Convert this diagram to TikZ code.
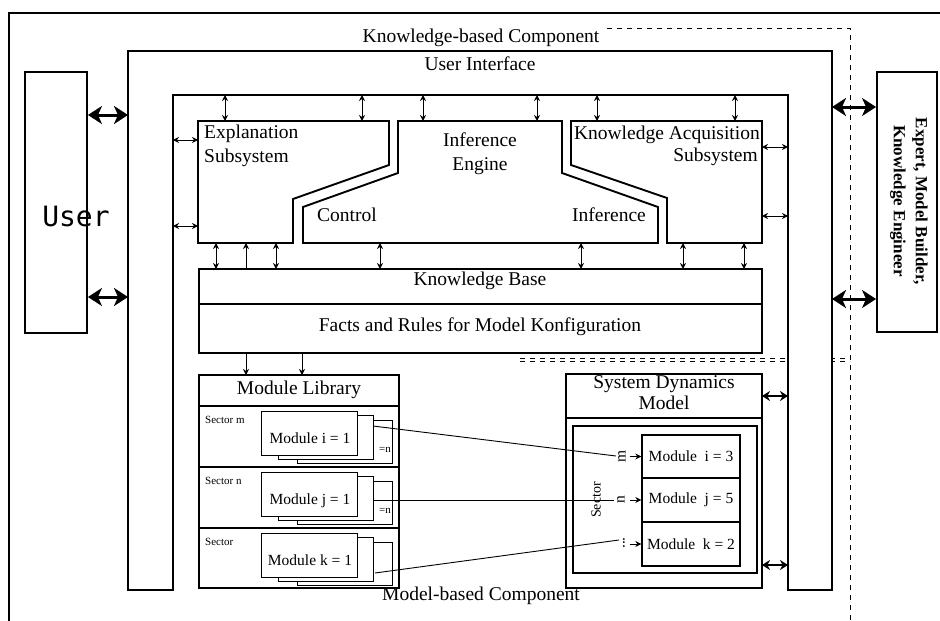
\documentclass[tikz,border=0pt]{standalone}
\usepackage{fontspec}
\setmainfont{Liberation Serif}
\newfontfamily\userfont{DejaVu Sans Mono}
\usetikzlibrary{arrows.meta}
\begin{document}
\begin{tikzpicture}[x=1pt,y=-1pt,
  ln/.style={line width=1.9pt},
  box/.style={draw, line width=1.9pt, fill=white, inner sep=0pt},
  cell/.style={draw, line width=1.3pt, fill=white, inner sep=0pt, minimum width=98pt, font=\fontsize{15.5}{17}\selectfont},
  card/.style={draw, line width=1pt, fill=white},
  lbl/.style={font=\fontsize{19.5}{22}\selectfont, inner sep=0pt},
  slbl/.style={font=\fontsize{15.5}{17}\selectfont, inner sep=0pt},
  tinylbl/.style={font=\fontsize{11}{12}\selectfont, inner sep=0pt},
  dsh/.style={line width=0.8pt, dash pattern=on 5pt off 5pt},
  bigarr/.style={line width=3pt, arrows={Stealth[length=14pt,width=18pt,inset=4pt]-Stealth[length=14pt,width=18pt,inset=4pt]}},
  midarr/.style={line width=1.7pt, arrows={Stealth[length=8pt,width=10pt]-Stealth[length=8pt,width=10pt]}},
  smarr/.style={line width=1pt, arrows={Stealth[length=6pt,width=6pt]-Stealth[length=6pt,width=6pt]}},
  uparr/.style={line width=1pt, arrows={Stealth[length=6pt,width=6pt]-}},
  toarr/.style={line width=1pt, arrows={-Stealth[length=6pt,width=6pt]}},
  link/.style={line width=0.9pt},
]
\useasboundingbox (0,0) rectangle (940,621);
\fill[white] (0,0) rectangle (940,621);

% outer frame
\draw[ln] (9,621) -- (9,13) -- (940,13);
\node[lbl, anchor=base] (kbc) at (481,42) {Knowledge-based Component};
\coordinate (dA) at (607,28); \coordinate (dB) at (850,28); \coordinate (dC) at (850,621);
\draw[dsh] (dA) -- (dB) -- (dC);
\coordinate (hA) at (520,358); \coordinate (hB) at (850,358);
\coordinate (hC) at (520,361.5); \coordinate (hD) at (850,361.5);
\draw[dsh] (hA) -- (hB);
\draw[dsh] (hC) -- (hD);

% user interface frame
\draw[ln, fill=white] (128,590) -- (128,51) -- (832,51) -- (832,590) -- (788,590) -- (788,95) -- (173,95) -- (173,590) -- cycle;
\node[lbl, anchor=base] (uit) at (480,70) {User Interface};
\node[lbl, anchor=base] (mbc) at (481,600) {Model-based Component};

% user
\node[box, minimum width=62pt, minimum height=261pt] (user) at (56,202.5) {};
\node[anchor=base, font=\userfont\fontsize{28}{30}\selectfont, inner sep=0pt] (usert) at (76,226) {User};
\coordinate (ui1) at (128,115); \coordinate (ui2) at (128,297);
\draw[bigarr] (user.east |- ui1) -- (ui1);
\draw[bigarr] (user.east |- ui2) -- (ui2);

% expert
\node[box, minimum width=60pt, minimum height=260pt] (expert) at (907,202) {};
\node[rotate=-90, align=center, inner sep=0pt, font=\bfseries\fontsize{17}{22}\selectfont] (expt) at (909,201) {Expert, Model Builder,\\Knowledge Engineer};
\coordinate (ue1) at (832,107); \coordinate (ue2) at (832,299);
\draw[bigarr] (ue1) -- (expert.west |- ue1);
\draw[bigarr] (ue2) -- (expert.west |- ue2);

% explanation subsystem
\draw[ln, fill=white] (198,121) -- (389,121) -- (389,165) -- (293,199) -- (293,243) -- (198,243) -- cycle;
\node[lbl, anchor=base west] (expl1) at (204,138) {Explanation};
\node[lbl, anchor=base west] (expl2) at (204,162) {Subsystem};

% inference engine
\draw[ln, fill=white] (398,121) -- (562,121) -- (562,173) -- (658,207) -- (658,243) -- (303,243) -- (303,207) -- (398,173) -- cycle;
\node[lbl, anchor=base] (ie1) at (480,146) {Inference};
\node[lbl, anchor=base] (ie2) at (480,170) {Engine};
\node[lbl, anchor=base west] (ctrl) at (317,221) {Control};
\node[lbl, anchor=base west] (infer) at (572,221) {Inference};

% knowledge acquisition
\draw[ln, fill=white] (571,121) -- (762,121) -- (762,243) -- (667,243) -- (667,198) -- (571,165) -- cycle;
\node[lbl, anchor=base east] (ka1) at (760,139) {Knowledge Acquisition};
\node[lbl, anchor=base east] (ka2) at (758,161) {Subsystem};

% knowledge base
\node[box, minimum width=563pt, minimum height=84pt] (kb) at (480.5,311) {};
\draw[ln] (199,304) -- (762,304);
\node[lbl, anchor=base] (kbt) at (480,285) {Knowledge Base};
\node[lbl, anchor=base] (kbf) at (480,331) {Facts and Rules for Model Konfiguration};

% small arrows, top
\foreach \x [count=\i] in {225,362,423,537,597,735} {
  \coordinate (ta\i) at (\x,95); \coordinate (tb\i) at (\x,121);
  \draw[smarr] (ta\i) -- (tb\i);
}
\foreach \y [count=\i] in {140,226} {
  \coordinate (la\i) at (173,\y); \coordinate (lb\i) at (198,\y);
  \draw[smarr] (la\i) -- (lb\i);
}
\foreach \y [count=\i] in {147,216} {
  \coordinate (ra\i) at (762,\y); \coordinate (rb\i) at (788,\y);
  \draw[smarr] (ra\i) -- (rb\i);
}
\foreach \x [count=\i] in {216,276,380,581,683,744} {
  \coordinate (ba\i) at (\x,243); \coordinate (bb\i) at (\x,269);
  \draw[smarr] (ba\i) -- (bb\i);
}
\coordinate (bu1) at (246,243); \coordinate (bu2) at (246,269);
\draw[uparr] (bu1) -- (bu2);
\foreach \x [count=\i] in {246,302} {
  \coordinate (ka\i) at (\x,353); \coordinate (kl\i) at (\x,375);
  \draw[toarr] (ka\i) -- (kl\i);
}

% module library
\node[box, minimum width=200pt, minimum height=213pt] (ml) at (299,481.5) {};
\draw[ln] (199,406) -- (399,406);
\draw[ln] (199,467) -- (399,467);
\draw[ln] (199,528) -- (399,528);
\node[lbl, anchor=base] (mlt) at (299,394) {Module Library};
\foreach \s/\lab/\mi/\nn in {0/Sector m/i/=n, 1/Sector n/j/=n, 2/Sector/k/} {
  \pgfmathsetmacro\T{406+61*\s}
  \draw[card] (297,{\T+14}) rectangle (392,{\T+57});
  \draw[card] (278,{\T+9}) rectangle (373,{\T+53});
  \draw[card] (261,{\T+5}) rectangle (357,{\T+49});
  \node[slbl, anchor=base] (cm\s) at (310,{\T+37}) {Module \mi\ = 1};
  \node[tinylbl, anchor=base west] (sl\s) at (205,{\T+17}) {\lab};
  \node[tinylbl, anchor=base east] (nn\s) at (391,{\T+46}) {\nn};
}

% system dynamics model
\node[box, minimum width=196pt, minimum height=214pt] (sdm) at (664,481) {};
\draw[line width=2.6pt] (566,418) -- (762,418);
\node[lbl, anchor=base] (sdmt1) at (664,388) {System Dynamics};
\node[lbl, anchor=base] (sdmt2) at (664,409) {Model};
\draw[ln] (573,426) rectangle (757,573);
\node[cell, minimum height=43pt] (mi) at (691,456.5) {Module\ \ i = 3};
\node[cell, minimum height=44pt] (mj) at (691,500) {Module\ \ j = 5};
\node[cell, minimum height=44pt] (mk) at (691,544) {Module\ \ k = 2};
\node[rotate=90, inner sep=0pt, font=\fontsize{14}{15}\selectfont] (sect) at (596,500) {Sector};
\node[rotate=90, slbl] (sm) at (622,456.5) {m};
\node[rotate=90, slbl] (sn) at (621,500) {n};
\node[rotate=90, slbl] (sk) at (624,543) {...};
\coordinate (s1) at (630,456.5); \coordinate (s2) at (630,500); \coordinate (s3) at (630,544);
\draw[toarr] (s1) -- (mi.west);
\draw[toarr] (s2) -- (mj.west);
\draw[toarr] (s3) -- (mk.west);

% links library -> sectors
\coordinate (L1) at (373,426); \coordinate (E1) at (616,456);
\coordinate (L2) at (373,500); \coordinate (E2) at (614,500);
\coordinate (L3) at (375,573); \coordinate (E3) at (619,540);
\draw[link] (L1) -- (E1);
\draw[link] (L2) -- (E2);
\draw[link] (L3) -- (E3);

% SDM <-> user interface
\foreach \y [count=\i] in {396,565} {
  \coordinate (sa\i) at (762,\y); \coordinate (sb\i) at (788,\y);
  \draw[midarr] (sa\i) -- (sb\i);
}
\end{tikzpicture}
\end{document}
